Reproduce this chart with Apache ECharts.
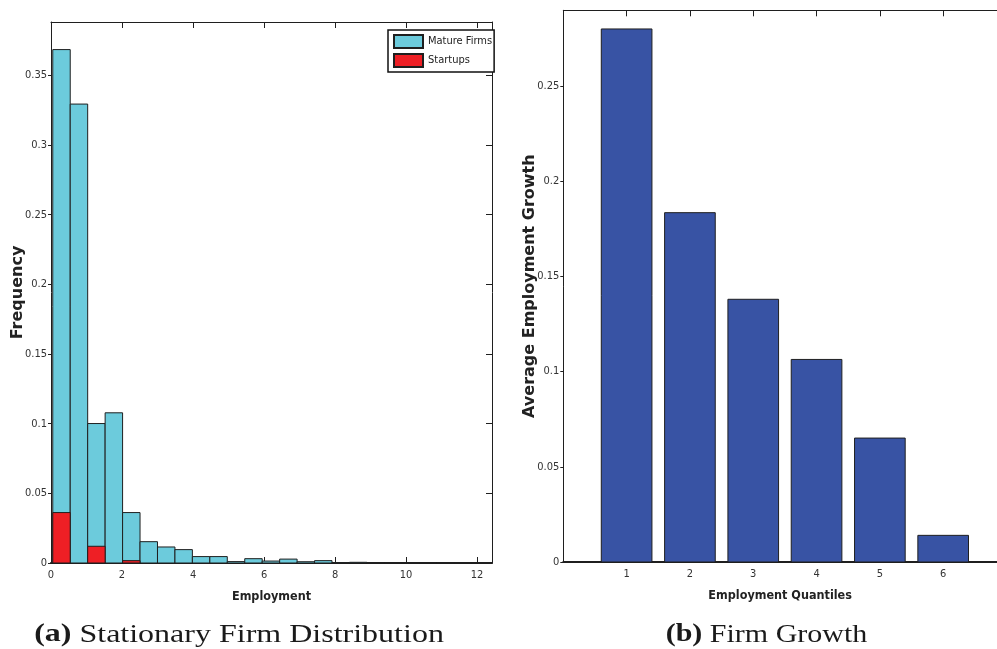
<!DOCTYPE html>
<html>
<head>
<meta charset="utf-8">
<title>Stationary Firm Distribution and Firm Growth</title>
<script src="https://cdn.jsdelivr.net/npm/echarts@6/dist/echarts.min.js"></script>
<style>
  html, body { margin: 0; padding: 0; background: #ffffff; }
  #chart { width: 997px; height: 649px; }
</style>
</head>
<body>
<div id="chart"></div>
<script>
// Panel (a): histogram of firm employment, bins of equal width
const empBinStart = 0.05;
const empBinWidth = 0.4915;
const matureFreq = [0.3685, 0.3294, 0.1001, 0.1078, 0.0362, 0.0153, 0.0115, 0.0096,
                    0.0046, 0.0046, 0.0010, 0.0031, 0.0014, 0.0028, 0.0009, 0.0017,
                    0.0003, 0.0005, 0, 0, 0, 0, 0, 0, 0];
const startupFreq = [0.0362, 0, 0.0120, 0, 0.0017, 0, 0, 0,
                     0, 0, 0, 0, 0, 0, 0, 0,
                     0, 0, 0, 0, 0, 0, 0, 0, 0];
const seriesNames = ['Mature Firms', 'Startups'];

// Panel (b): average employment growth by employment quantile
const quantiles = [1, 2, 3, 4, 5, 6];
const growthValues = [0.280, 0.1835, 0.138, 0.1064, 0.0651, 0.014];

const captionA = ['(a)', 'Stationary Firm Distribution'];
const captionB = ['(b)', 'Firm Growth'];

const NARROW = "'Liberation Sans Narrow', 'DejaVu Sans Condensed', 'Arial Narrow', sans-serif";
const WIDE_BOLD = "'DejaVu Sans', 'Verdana', sans-serif";
const SERIF = "'Liberation Serif', 'DejaVu Serif', serif";
const EDGE = '#1f1f1f';

function binRows(values) {
  return values.map((v, i) => [empBinStart + i * empBinWidth, empBinStart + (i + 1) * empBinWidth, v]);
}

function rectItem(color) {
  return function (params, api) {
    const x0 = api.value(0), x1 = api.value(1), h = api.value(2);
    const a = api.coord([x0, 0]);
    const b = api.coord([x1, h]);
    return {
      type: 'rect',
      shape: { x: a[0], y: b[1], width: b[0] - a[0], height: a[1] - b[1] },
      style: { fill: color, stroke: EDGE, lineWidth: 1 }
    };
  };
}

const tickLabel = { fontFamily: NARROW, fontSize: 11, color: '#333' };
const axisNameStyle = { fontFamily: NARROW, fontSize: 12.5, fontWeight: 'bold', color: '#222' };
const yNameStyle = { fontFamily: WIDE_BOLD, fontSize: 16, fontWeight: 'bold', color: '#222' };
const lineStyle = { color: EDGE, width: 1 };

function boxAxes(gridIndex, xMin, xMax, xInt, yMin, yMax, yInt, xName, yName, xFormatter, showRight) {
  return {
    x: [
      {
        type: 'value', gridIndex, min: xMin, max: xMax, interval: xInt, position: 'bottom',
        name: xName, nameLocation: 'middle', nameGap: 27, nameTextStyle: axisNameStyle,
        nameMoveOverlap: false,
        axisLine: { show: true, onZero: false, lineStyle: { color: EDGE, width: 2 } },
        axisTick: { show: true, inside: true, length: 6, lineStyle },
        axisLabel: Object.assign({ margin: 7, showMaxLabel: false, formatter: xFormatter }, tickLabel),
        splitLine: { show: false }
      },
      {
        type: 'value', gridIndex, min: xMin, max: xMax, interval: xInt, position: 'top',
        axisLine: { show: true, onZero: false, lineStyle },
        axisTick: { show: true, inside: true, length: 6, lineStyle },
        axisLabel: { show: false }, splitLine: { show: false }
      }
    ],
    y: [
      {
        type: 'value', gridIndex, min: yMin, max: yMax, interval: yInt, position: 'left',
        name: yName, nameLocation: 'middle', nameGap: 25, nameTextStyle: yNameStyle,
        nameMoveOverlap: false,
        axisLine: { show: true, onZero: false, lineStyle },
        axisTick: { show: true, inside: false, length: 3, lineStyle },
        axisLabel: Object.assign({ margin: 4, showMaxLabel: false }, tickLabel),
        splitLine: { show: false }
      },
      {
        type: 'value', gridIndex, min: yMin, max: yMax, interval: yInt, position: 'right',
        show: showRight,
        axisLine: { show: true, onZero: false, lineStyle },
        axisTick: { show: true, inside: true, length: 6, lineStyle },
        axisLabel: { show: false }, splitLine: { show: false }
      }
    ]
  };
}

const axesA = boxAxes(0, 0, 12.42, 2, 0, 0.3883, 0.05, 'Employment', 'Frequency', null, true);
const axesB = boxAxes(1, 0, 6.85, 1, 0, 0.2898, 0.05, 'Employment Quantiles', 'Average Employment Growth',
  v => (v >= 1 && v <= 6 ? String(v) : ''), false);

const chart = echarts.init(document.getElementById('chart'), null, { renderer: 'canvas' });

function caption(parts, cx, stretch) {
  return {
    type: 'text', x: cx, y: 635, scaleX: stretch,
    style: {
      text: '{b|' + parts[0] + '} ' + parts[1],
      x: 0, y: 0, align: 'center', verticalAlign: 'middle',
      font: '25px ' + SERIF, fill: '#1a1a1a',
      rich: { b: { fontFamily: SERIF, fontSize: 25, fontWeight: 'bold', fill: '#1a1a1a' } }
    }
  };
}

chart.setOption({
  backgroundColor: '#ffffff',
  animation: false,
  grid: [
    { left: 51, top: 22, width: 441, height: 541 },
    { left: 563.3, top: 10.3, width: 433.7, height: 551.7 }
  ],
  xAxis: [axesA.x[0], axesA.x[1], axesB.x[0], axesB.x[1]],
  yAxis: [axesA.y[0], axesA.y[1], axesB.y[0], axesB.y[1]],
  legend: {
    data: seriesNames,
    orient: 'vertical',
    left: 388, top: 30,
    padding: [4, 2, 4, 5],
    itemGap: 4,
    itemWidth: 29, itemHeight: 13,
    backgroundColor: '#ffffff',
    borderColor: '#111', borderWidth: 1.5, borderRadius: 0,
    icon: 'rect',
    textStyle: { fontFamily: NARROW, fontSize: 11, color: '#222' }
  },
  series: [
    {
      name: seriesNames[0], type: 'custom', xAxisIndex: 0, yAxisIndex: 0,
      renderItem: rectItem('#6ccbdc'),
      itemStyle: { color: '#6ccbdc', borderColor: EDGE, borderWidth: 1 },
      encode: { x: [0, 1], y: 2 },
      data: binRows(matureFreq)
    },
    {
      name: seriesNames[1], type: 'custom', xAxisIndex: 0, yAxisIndex: 0,
      renderItem: rectItem('#ee1f25'),
      itemStyle: { color: '#ee1f25', borderColor: EDGE, borderWidth: 1 },
      encode: { x: [0, 1], y: 2 },
      data: binRows(startupFreq).filter(r => r[2] > 0)
    },
    {
      name: 'Average Employment Growth', type: 'custom', xAxisIndex: 2, yAxisIndex: 2,
      renderItem: rectItem('#3853a4'),
      itemStyle: { color: '#3853a4' },
      encode: { x: [0, 1], y: 2 },
      data: quantiles.map((q, i) => [q - 0.4, q + 0.4, growthValues[i]])
    }
  ],
  graphic: [caption(captionA, 239, 1.28), caption(captionB, 766.5, 1.2)]
});
</script>
</body>
</html>
